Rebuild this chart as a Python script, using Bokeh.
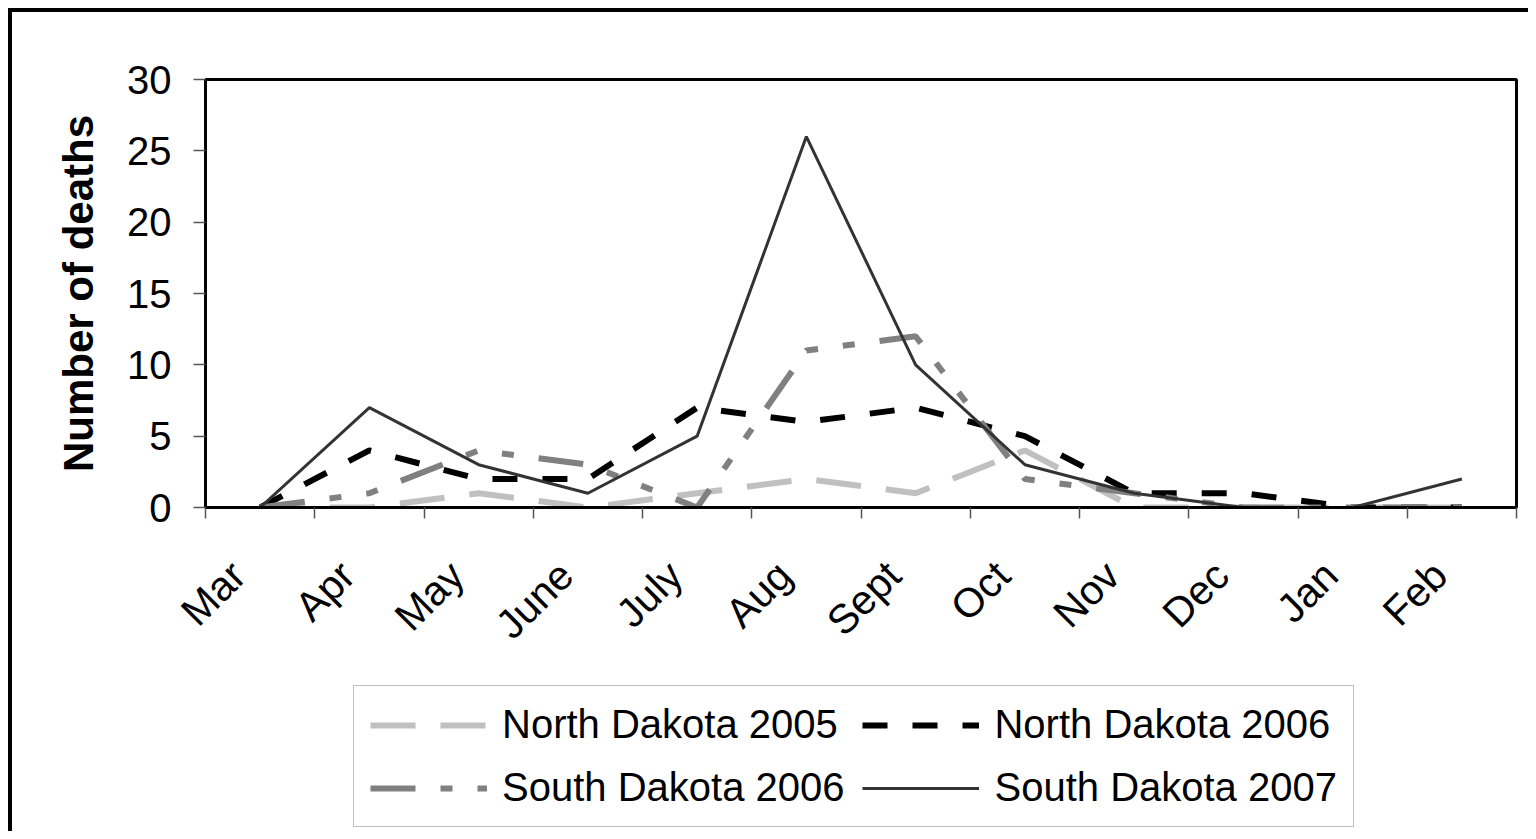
import math
from bokeh.plotting import figure
from bokeh.layouts import column
from bokeh.models import FixedTicker, Range1d, Legend, LegendItem
from bokeh.embed import file_html
from bokeh.resources import INLINE

months = ["Mar", "Apr", "May", "June", "July", "Aug", "Sept", "Oct", "Nov", "Dec", "Jan", "Feb"]
nd_2005 = [0, 0, 1, 0, 1, 2, 1, 4, 0, 0, 0, 0]
nd_2006 = [0, 4, 2, 2, 7, 6, 7, 5, 1, 1, 0, 0]
sd_2006 = [0, 1, 4, 3, 0, 11, 12, 2, 1, 0, 0, 0]
sd_2007 = [0, 7, 3, 1, 5, 26, 10, 3, 1, 0, 0, 2]
y_ticks = [0, 5, 10, 15, 20, 25, 30]

series_names = ["North Dakota 2005", "North Dakota 2006", "South Dakota 2006", "South Dakota 2007"]
series_vals = [nd_2005, nd_2006, sd_2006, sd_2007]
styles = [
    dict(line_color="#C0C0C0", line_width=6, line_dash="45 25"),
    dict(line_color="black", line_width=6, line_dash="25 25"),
    dict(line_color="#808080", line_width=6, line_dash="45 25 12 25 12 25"),
    dict(line_color="#333333", line_width=3),
]

FONT = "Liberation Sans"
STEP = 10  # data units per month category
n = len(months)
xpos = [STEP * i + STEP // 2 for i in range(n)]          # category centres
label_pos = [STEP * i + STEP // 2 - 2 for i in range(n)]  # label anchors (Excel-like offset)
bounds = [STEP * i for i in range(n + 1)]                 # category boundaries

W = 1528
H1 = 672
H2 = 831 - H1
p = figure(width=W, height=H1, output_backend="svg", toolbar_location=None,
           x_range=Range1d(0, STEP * n), y_range=Range1d(0, 30),
           min_border_left=205, min_border_top=79, min_border_right=12,
           min_border_bottom=165)
p.background_fill_color = "white"
p.border_fill_alpha = 0
p.xgrid.visible = False
p.ygrid.visible = False
p.outline_line_color = "black"
p.outline_line_width = 3

# x axis
xa = p.xaxis[0]
xa.ticker = FixedTicker(ticks=label_pos, minor_ticks=bounds)
xa.major_label_overrides = {x: m for x, m in zip(label_pos, months)}
xa.major_tick_line_color = None
xa.minor_tick_line_color = "#555555"
xa.minor_tick_line_width = 1.5
xa.minor_tick_in = 0
xa.minor_tick_out = 11
xa.axis_line_color = "black"
xa.axis_line_width = 3
xa.major_label_orientation = math.pi / 4
xa.major_label_text_font = FONT
xa.major_label_text_font_size = "41px"
xa.major_label_text_color = "black"
xa.major_label_standoff = 50

# y axis
ya = p.yaxis[0]
ya.ticker = FixedTicker(ticks=y_ticks, minor_ticks=[])
ya.major_tick_line_color = "#555555"
ya.major_tick_line_width = 1.5
ya.major_tick_in = 0
ya.major_tick_out = 12
ya.axis_line_color = "black"
ya.axis_line_width = 3
ya.major_label_text_font = FONT
ya.major_label_text_font_size = "40px"
ya.major_label_text_color = "black"
ya.major_label_standoff = 22
ya.axis_label = "Number of deaths"
ya.axis_label_text_font = FONT
ya.axis_label_text_font_size = "42px"
ya.axis_label_text_font_style = "bold"
ya.axis_label_text_color = "black"
ya.axis_label_standoff = 22

for vals, st in zip(series_vals, styles):
    p.line(xpos, vals, **st)

# legend lives in its own strip below the chart; its line renderers reuse the
# series data but the strip's ranges keep them out of view, so only the legend shows
p2 = figure(width=W, height=H2, output_backend="svg", toolbar_location=None,
            x_range=Range1d(0, STEP * n), y_range=Range1d(1000, 1001),
            min_border_left=205, min_border_right=12, min_border_top=0, min_border_bottom=0)
p2.axis.visible = False
p2.grid.visible = False
p2.outline_line_color = None
p2.background_fill_alpha = 0
p2.border_fill_alpha = 0
items = []
for name, vals, st in zip(series_names, series_vals, styles):
    r = p2.line(xpos, vals, **st)
    items.append(LegendItem(label=name, renderers=[r]))

legend = Legend(items=items, orientation="horizontal", ncols=2, location=(148, 4))
legend.label_text_font = FONT
legend.label_text_font_size = "40px"
legend.label_text_color = "black"
legend.glyph_width = 117
legend.glyph_height = 42
legend.label_height = 42
legend.label_standoff = 15
legend.spacing = 18
legend.padding = 16
legend.margin = 0
legend.border_line_color = "#808080"
legend.border_line_width = 1.5
legend.background_fill_color = "white"
legend.background_fill_alpha = 1
p2.add_layout(legend, "center")

layout = column(p, p2, spacing=0)
layout.styles = {
    "background": ("linear-gradient(#000, #000) 8px 8px / 4px calc(100% - 8px) no-repeat, "
                   "linear-gradient(#000, #000) 8px 8px / calc(100% - 8px) 4px no-repeat, #ffffff"),
}

open("out.html", "w").write(file_html(layout, INLINE))
